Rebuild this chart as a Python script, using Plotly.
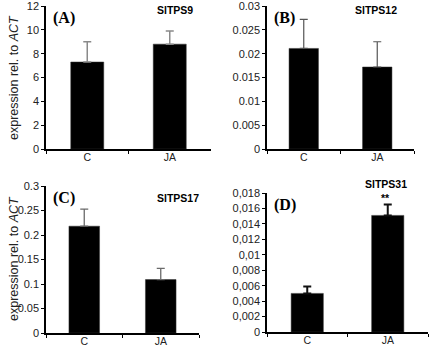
import plotly.graph_objects as go

categories = ["C", "JA"]

a_values = [7.3, 8.8]
a_errors = [1.7, 1.1]
b_values = [0.0211, 0.0172]
b_errors = [0.0061, 0.0053]
c_values = [0.218, 0.109]
c_errors = [0.035, 0.023]
d_values = [0.0050, 0.0151]
d_errors = [0.0009, 0.0014]

a_ticks = [0, 2, 4, 6, 8, 10, 12]
a_ticktext = ["0", "2", "4", "6", "8", "10", "12"]
b_ticks = [0, 0.005, 0.01, 0.015, 0.02, 0.025, 0.03]
b_ticktext = ["0", "0.005", "0.01", "0.015", "0.02", "0.025", "0.03"]
c_ticks = [0, 0.05, 0.1, 0.15, 0.2, 0.25, 0.3]
c_ticktext = ["0", "0.05", "0.1", "0.15", "0.2", "0.25", "0.3"]
d_ticks = [0, 0.002, 0.004, 0.006, 0.008, 0.01, 0.012, 0.014, 0.016, 0.018]
d_ticktext = ["0", "0,002", "0,004", "0,006", "0,008", "0,01", "0,012", "0,014", "0,016", "0,018"]

panels = [
    dict(vals=a_values, errs=a_errors, ticks=a_ticks, tt=a_ticktext, rng=12,
         xd=[46/430, 211/430], yd=[1-149/348, 1-6/348], ecol="#8a8a8a", ew=1.5,
         letter="(A)", gene="SlTPS9"),
    dict(vals=b_values, errs=b_errors, ticks=b_ticks, tt=b_ticktext, rng=0.03,
         xd=[267/430, 414/430], yd=[1-149/348, 1-6/348], ecol="#555555", ew=1.2,
         letter="(B)", gene="SlTPS12"),
    dict(vals=c_values, errs=c_errors, ticks=c_ticks, tt=c_ticktext, rng=0.3,
         xd=[46/430, 199/430], yd=[1-333/348, 1-186/348], ecol="#6a6a6a", ew=1.3,
         letter="(C)", gene="SlTPS17"),
    dict(vals=d_values, errs=d_errors, ticks=d_ticks, tt=d_ticktext, rng=0.018,
         xd=[267/430, 428/430], yd=[1-332/348, 1-193/348], ecol="#111111", ew=2,
         letter="(D)", gene="SlTPS31"),
]

fig = go.Figure()
layout = dict(
    template="none",
    width=430, height=348,
    margin=dict(l=0, r=0, t=0, b=0, pad=0),
    paper_bgcolor="white", plot_bgcolor="white",
    showlegend=False,
    font=dict(family="Liberation Sans, Arial, sans-serif", color="#222222"),
)
annotations = []

for i, p in enumerate(panels):
    n = "" if i == 0 else str(i + 1)
    xa, ya = "x" + n, "y" + n
    fig.add_trace(go.Bar(
        x=categories, y=p["vals"], xaxis=xa, yaxis=ya,
        marker=dict(color="black", line=dict(color="#333333", width=0.5)),
        width=0.4,
        error_y=dict(type="data", array=p["errs"], symmetric=False,
                     arrayminus=[0, 0], color=p["ecol"], thickness=p["ew"], width=4),
    ))
    layout["xaxis" + n] = dict(
        domain=p["xd"], anchor=ya, showline=True, linecolor="black", linewidth=1.5,
        ticks="outside", tickson="boundaries", ticklen=3, tickcolor="black",
        tickfont=dict(size=10.5, color="#222222"), showgrid=False, zeroline=False,
        fixedrange=True, automargin=False, ticklabelstandoff=-2,
        ticklabeloverflow="allow",
    )
    layout["yaxis" + n] = dict(
        domain=p["yd"], anchor=xa, range=[0, p["rng"]], showline=True,
        linecolor="black", linewidth=1.5, ticks="outside", ticklen=3,
        tickcolor="black", tickvals=p["ticks"], ticktext=p["tt"],
        tickfont=dict(size=11, color="#222222"), showgrid=False, zeroline=False,
        fixedrange=True, automargin=False, ticklabeloverflow="allow",
    )
    # panel letter
    annotations.append(dict(
        x=p["xd"][0] + 5/430, y=p["yd"][1] - 1/348, xref="paper", yref="paper",
        xanchor="left", yanchor="top", text="<b>" + p["letter"] + "</b>",
        showarrow=False, font=dict(family="Liberation Serif, Times New Roman, serif",
                                   size=16, color="black"),
    ))

# gene titles
annotations += [
    dict(x=175/430, y=1-10/348, text="<b>SlTPS9</b>"),
    dict(x=376/430, y=1-10/348, text="<b>SlTPS12</b>"),
    dict(x=178/430, y=1-198/348, text="<b>SlTPS17</b>"),
    dict(x=386/430, y=1-184/348, text="<b>SlTPS31</b>"),
    dict(x=385/430, y=1-198/348, text="<b>**</b>"),
]
for a in annotations[4:]:
    a.update(xref="paper", yref="paper", xanchor="center", yanchor="middle",
             showarrow=False, font=dict(size=10.5, color="black",
                                        family="Liberation Sans, Arial, sans-serif"))

# y-axis titles
for yc in [78, 259]:
    annotations.append(dict(
        x=14/430, y=1-yc/348, xref="paper", yref="paper", xanchor="center",
        yanchor="middle", textangle=-90, showarrow=False,
        text="expression rel. to <i>ACT</i>",
        font=dict(size=12.5, color="#222222",
                  family="Liberation Sans, Arial, sans-serif"),
    ))

layout["annotations"] = annotations
fig.update_layout(**layout)
fig.write_html("out.html", config={"displayModeBar": False},
               post_script="document.body.style.margin='0';document.body.style.overflow='hidden';")
